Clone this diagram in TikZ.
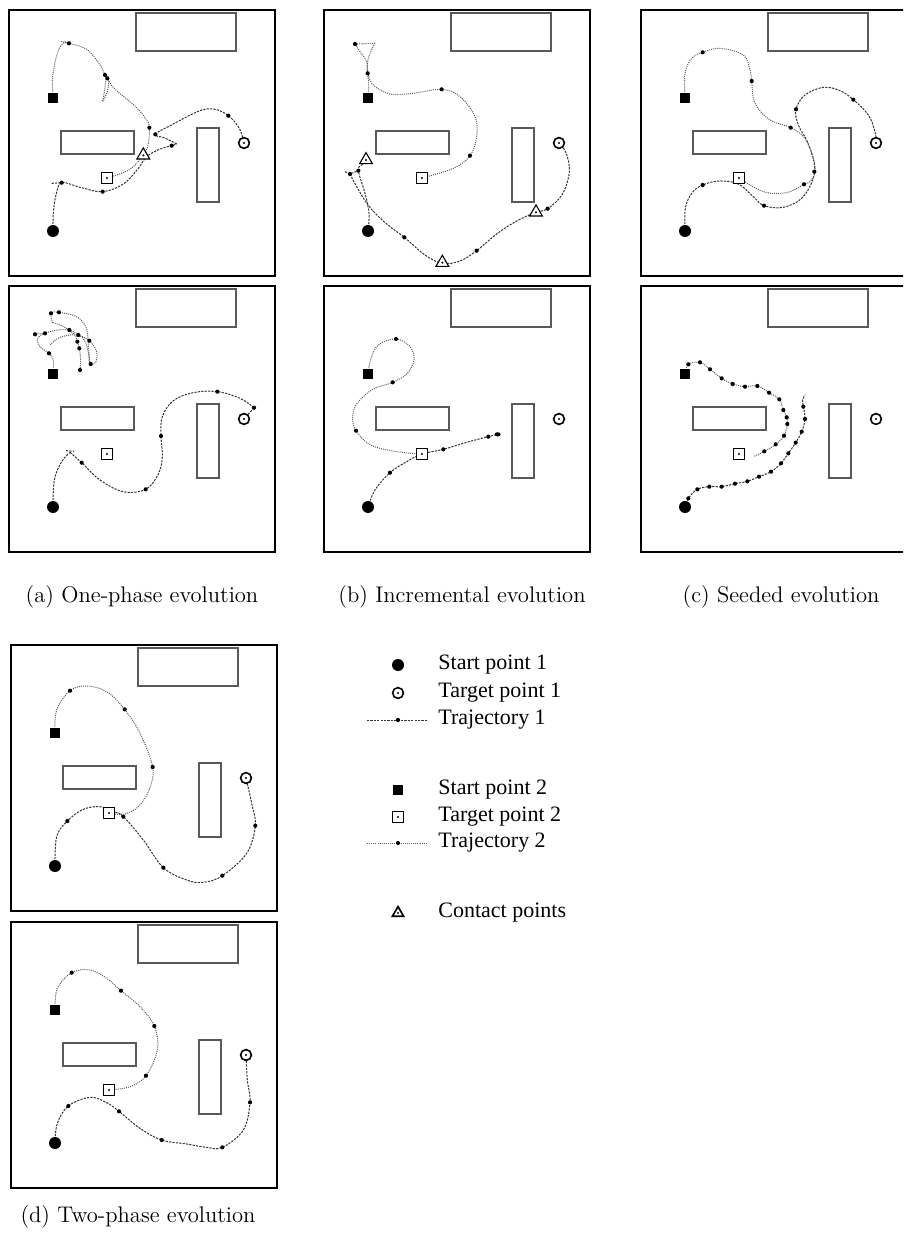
\documentclass[tikz,border=0pt]{standalone}
\usepackage{fontspec}
\newfontfamily\legfont{Liberation Serif}
\usetikzlibrary{shapes.geometric}
\tikzset{
  frame/.style={draw=black, line width=0.75pt},
  obst/.style={draw=black!65, line width=0.6pt},
  traja/.style={draw=black!80, line width=0.5pt, dash pattern=on 1.1pt off 0.6pt},
  trajb/.style={draw=black!65, line width=0.5pt, dash pattern=on 0.5pt off 0.55pt},
  wp/.style={circle, fill=black, inner sep=0pt, minimum size=2.1pt},
  cdot/.style={circle, fill=black, inner sep=0pt, minimum size=1.1pt},
  startA/.style={circle, fill=black, inner sep=0pt, minimum size=6pt},
  targA/.style={circle, draw=black, line width=0.8pt, fill=white, inner sep=0pt, minimum size=5.4pt},
  startB/.style={rectangle, fill=black, inner sep=0pt, minimum size=5.2pt},
  targB/.style={rectangle, draw=black, line width=0.8pt, fill=white, inner sep=0pt, minimum size=5.4pt},
  contact/.style={regular polygon, regular polygon sides=3, draw=black, line width=0.55pt, fill=white, inner sep=0pt, minimum size=7.4pt},
  capt/.style={font=\fontsize{11.3}{13.6}\selectfont, inner sep=0pt},
  leg/.style={font=\legfont\fontsize{11}{13}\selectfont, anchor=west, inner sep=0pt},
}
\newcommand\panelbase[3]{%
  \begin{scope}[shift={(#2,#3)}]
    \draw[frame] (0,0) rectangle (266,266);
    \draw[obst] (127,3) rectangle (227,41);
    \draw[obst] (52,121) rectangle (125,144);
    \draw[obst] (188,118) rectangle (210,192);
    \coordinate (#1s1) at (44,221);
    \coordinate (#1t1) at (235,133);
    \coordinate (#1s2) at (44,88);
    \coordinate (#1t2) at (98,168);
  \end{scope}}
\newcommand\panelmarks[1]{%
  \node[startA] (#1S1) at (#1s1) {};
  \node[targA] (#1T1) at (#1t1) {};
  \node[cdot] (#1T1c) at (#1t1) {};
  \node[startB] (#1S2) at (#1s2) {};
  \node[targB] (#1T2) at (#1t2) {};
  \node[cdot] (#1T2c) at (#1t2) {};}
\newcommand\contactpt[2]{\node[contact] (#1) at #2 {}; \node[cdot] (#1c) at #2 {};}
\begin{document}
\begin{tikzpicture}[x=0.5pt, y=-0.5pt]
\useasboundingbox (0,0) rectangle (903,1234);
\clip (0,0) rectangle (903,1234);

% ---------------- panel a1
\panelbase{a1}{9}{10}
\begin{scope}[shift={(0,0)}, scale=1/3]
  \draw[trajb] plot[smooth, tension=0.6] coordinates {(a1s2) (158,230) (172,160) (192,127) (207,130) (260,148) (298,192) (315,225) (322,235) (345,268) (405,318) (440,360) (448,383) (445,430) (432,462) (390,508) (a1t2)};
  \draw[trajb] plot[smooth] coordinates {(318,238) (314,270) (308,305)};
  \draw[trajb] plot[smooth] coordinates {(326,242) (322,275) (308,305)};
  \draw[trajb] (183,124) -- (200,129);
  \draw[traja] plot[smooth, tension=0.6] coordinates {(a1s1) (160,640) (168,585) (185,548) (240,562) (308,575) (370,552) (415,505) (440,470) (478,448) (515,437) (530,432)};
  \draw[traja] plot[smooth, tension=0.6] coordinates {(530,432) (495,414) (466,403) (520,372) (600,332) (645,328) (685,347) (718,385) (a1t1)};
  \draw[traja] (155,550) -- (185,548);
  \foreach \x/\y [count=\i] in {207/130, 315/225, 322/235, 448/383, 185/548, 308/575, 466/403, 515/437, 685/347}
    \node[wp] (a1w\i) at (\x,\y) {};
  \contactpt{a1c1}{(430,466)}
\end{scope}
\panelmarks{a1}

% ---------------- panel a2
\panelbase{a2}{9}{286}
\begin{scope}[shift={(0,280)}, scale=1/3]
  \draw[traja] plot[smooth, tension=0.6] coordinates {(a2s1) (163,600) (185,545) (210,517)};
  \draw[traja] plot[smooth, tension=0.6] coordinates {(210,517) (245,548) (300,600) (370,635) (437,628) (475,582) (487,530) (483,468) (487,410) (520,362) (580,338) (652,335) (720,355) (762,383)};
  \draw[traja] (762,383) -- (a2t1);
  \draw[traja] (198,512) -- (222,514);
  \draw[trajb] plot[smooth, tension=0.6] coordinates {(a2s2) (160,240) (147,220) (120,200) (113,175) (135,160) (175,150) (208,150) (235,165) (268,182) (290,215) (287,248) (272,252)};
  \draw[trajb] (100,162) -- (135,160);
  \draw[trajb] plot[smooth, tension=0.6] coordinates {(158,128) (153,100) (177,97) (230,110) (258,142) (265,190) (268,250)};
  \draw[trajb] plot[smooth, tension=0.6] coordinates {(158,128) (180,135) (208,150) (228,170) (232,185) (238,205) (242,240) (240,270)};
  \draw[trajb] plot[smooth, tension=0.6] coordinates {(150,195) (180,172) (232,165) (258,190) (270,250)};
  \foreach \x/\y [count=\i] in {147/220, 135/160, 153/100, 177/97, 208/150, 235/165, 232/185, 238/205, 268/182, 272/252, 240/270, 105/163, 245/548, 437/628, 483/468, 652/335, 762/383}
    \node[wp] (a2w\i) at (\x,\y) {};
\end{scope}
\panelmarks{a2}

% ---------------- panel b1
\panelbase{b1}{324}{10}
\begin{scope}[shift={(310,0)}, scale=1/3]
  \draw[trajb] plot[smooth, tension=0.6] coordinates {(b1s2) (176,255) (173,220) (170,185) (150,155) (135,132)};
  \draw[trajb] (135,132) -- (195,130);
  \draw[trajb] plot[smooth, tension=0.6] coordinates {(195,130) (180,160) (172,190) (173,220) (190,255) (240,282) (310,280) (395,268) (450,290) (495,350) (500,410) (480,467) (430,505) (b1t2)};
  \draw[traja] plot[smooth, tension=0.6] coordinates {(b1s1) (177,640) (165,580) (145,512) (155,495) (168,482)};
  \draw[traja] (105,515) -- (120,522) -- (145,512);
  \draw[traja] plot[smooth, tension=0.6] coordinates {(120,522) (140,560) (178,620) (230,672) (283,712) (345,765) (397,790) (450,783) (500,752) (560,702) (620,663) (678,637) (713,626) (757,583) (778,515) (768,458) (b1t1)};
  \foreach \x/\y [count=\i] in {173/220, 135/132, 395/268, 480/467, 145/512, 120/522, 283/712, 500/752, 713/626}
    \node[wp] (b1w\i) at (\x,\y) {};
  \contactpt{b1c1}{(168,480)}
  \contactpt{b1c2}{(397,788)}
  \contactpt{b1c3}{(678,637)}
\end{scope}
\panelmarks{b1}

% ---------------- panel b2
\panelbase{b2}{324}{286}
\begin{scope}[shift={(310,280)}, scale=1/3]
  \draw[trajb] plot[smooth, tension=0.6] coordinates {(b2s2) (182,238) (205,195) (258,177) (300,200) (312,240) (290,282) (248,307) (188,328) (140,372) (128,412) (138,452) (182,495) (260,515) (b2t2)};
  \draw[traja] plot[smooth, tension=0.6] coordinates {(b2s1) (195,630) (240,578) (290,545) (b2t2) (400,508) (470,487) (535,470) (563,463)};
  \foreach \x/\y [count=\i] in {258/177, 248/307, 138/452, 240/578, 400/508, 535/470}
    \node[wp] (b2w\i) at (\x,\y) {};
  \node[wp, ellipse, minimum width=3pt, minimum height=2.1pt] (b2end) at (563,463) {};
\end{scope}
\panelmarks{b2}

% ---------------- panel c1
\panelbase{c1}{641}{10}
\begin{scope}[shift={(620,0)}, scale=1/3]
  \draw[traja] plot[smooth, tension=0.6] coordinates {(c1s1) (196,625) (215,580) (248,555) (300,543) (355,552) (400,590) (432,617) (490,622) (545,595) (578,540) (583,490) (562,425) (535,375) (528,328) (555,285) (610,262) (660,272) (700,299) (745,345) (765,395) (c1t1)};
  \draw[trajb] plot[smooth, tension=0.6] coordinates {(c1s2) (195,220) (215,175) (248,157) (300,145) (370,165) (390,210) (395,243) (405,310) (450,360) (512,383) (555,415) (578,470) (585,515) (570,545) (552,553) (500,578) (430,575) (c1t2)};
  \foreach \x/\y [count=\i] in {248/157, 395/243, 512/383, 528/328, 700/299, 583/515, 552/553, 432/617, 248/555}
    \node[wp] (c1w\i) at (\x,\y) {};
\end{scope}
\panelmarks{c1}

% ---------------- panel c2
\panelbase{c2}{641}{286}
\begin{scope}[shift={(620,280)}, scale=1/3]
  \draw[trajb] plot[smooth, tension=0.6] coordinates {(c2s2) (205,253) (240,247) (270,268) (305,295) (338,312) (375,320) (412,318) (447,338) (478,358) (490,390) (500,412) (502,432) (492,467) (467,493) (433,514) (400,530)};
  \draw[traja] plot[smooth, tension=0.6] coordinates {(c2s1) (205,655) (232,628) (268,620) (305,620) (345,611) (382,604) (417,590) (453,575) (483,550) (505,520) (527,488) (545,455) (555,417) (550,380) (548,360) (555,345)};
  \foreach \x/\y [count=\i] in {205/253, 240/247, 270/268, 305/295, 338/312, 375/320, 412/318, 447/338, 478/358, 490/390, 500/412, 502/432, 492/467, 467/493, 433/514}
    \node[wp] (c2u\i) at (\x,\y) {};
  \foreach \x/\y [count=\i] in {205/655, 232/628, 268/620, 305/620, 345/611, 382/604, 417/590, 453/575, 483/550, 505/520, 527/488, 545/455, 555/417, 550/380}
    \node[wp] (c2v\i) at (\x,\y) {};
\end{scope}
\panelmarks{c2}

% ---------------- panel d1
\panelbase{d1}{11}{645}
\begin{scope}[shift={(0,630)}, scale=1/3]
  \draw[trajb] plot[smooth, tension=0.6] coordinates {(d1s2) (170,240) (210,182) (260,168) (320,185) (374,238) (420,310) (458,411) (448,478) (415,530) (370,553) (d1t2)};
  \draw[traja] plot[smooth, tension=0.6] coordinates {(d1s1) (170,620) (202,573) (250,538) (300,530) (340,545) (370,560) (430,630) (490,713) (560,750) (610,757) (667,737) (740,670) (766,587) (755,520) (d1t1)};
  \foreach \x/\y [count=\i] in {210/182, 374/238, 458/411, 202/573, 370/560, 490/713, 667/737, 766/587}
    \node[wp] (d1w\i) at (\x,\y) {};
\end{scope}
\panelmarks{d1}

% ---------------- panel d2
\panelbase{d2}{11}{922}
\begin{scope}[shift={(0,910)}, scale=1/3]
  \draw[trajb] plot[smooth, tension=0.6] coordinates {(d2s2) (172,235) (215,188) (270,180) (320,205) (363,242) (420,290) (463,348) (472,420) (438,497) (390,530) (d2t2)};
  \draw[traja] plot[smooth, tension=0.6] coordinates {(d2s1) (172,640) (205,588) (270,562) (320,578) (357,604) (420,655) (485,690) (560,702) (620,712) (667,712) (730,660) (750,577) (742,510) (d2t1)};
  \foreach \x/\y [count=\i] in {215/188, 363/242, 463/348, 438/497, 205/588, 357/604, 485/690, 667/712, 750/577}
    \node[wp] (d2w\i) at (\x,\y) {};
\end{scope}
\panelmarks{d2}

% ---------------- captions
\node[capt] (capa) at (142,597) {(a) One-phase evolution};
\node[capt] (capb) at (462,597) {(b) Incremental evolution};
\node[capt] (capc) at (781,597) {(c) Seeded evolution};
\node[capt] (capd) at (138,1217) {(d) Two-phase evolution};

% ---------------- legend
\node[startA] (lS1) at (398,665) {};
\node[leg] (lS1t) at (438,665) {Start point 1};
\node[targA] (lT1) at (398,693) {};
\node[cdot] (lT1c) at (398,693) {};
\node[leg] (lT1t) at (438,693) {Target point 1};
\coordinate (l1a) at (367,720);
\coordinate (l1b) at (427,720);
\draw[traja] (l1a) -- (l1b);
\node[wp] (l1w) at (398,720) {};
\node[leg] (l1t) at (438,720) {Trajectory 1};
\node[startB] (lS2) at (398,790) {};
\node[leg] (lS2t) at (438,790) {Start point 2};
\node[targB] (lT2) at (398,817) {};
\node[cdot] (lT2c) at (398,817) {};
\node[leg] (lT2t) at (438,817) {Target point 2};
\coordinate (l2a) at (367,843);
\coordinate (l2b) at (427,843);
\draw[trajb] (l2a) -- (l2b);
\node[wp] (l2w) at (398,843) {};
\node[leg] (l2t) at (438,843) {Trajectory 2};
\node[contact, line width=0.85pt, minimum size=6.4pt] (lC) at (398,913) {};
\node[cdot] (lCc) at (398,913) {};
\node[leg] (lCt) at (438,913) {Contact points};
\end{tikzpicture}
\end{document}
